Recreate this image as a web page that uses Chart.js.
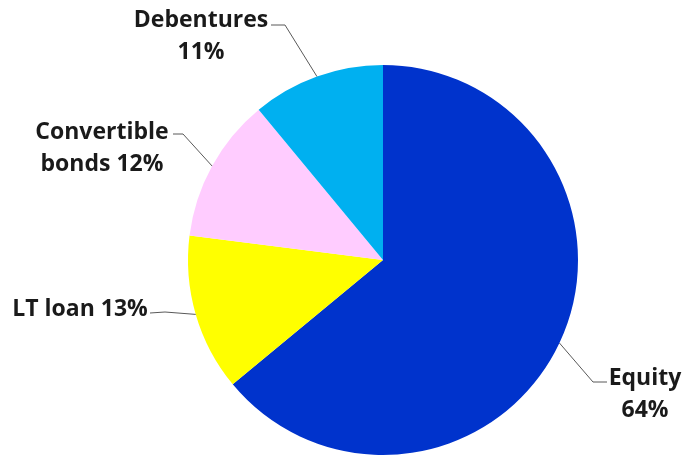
<!DOCTYPE html>
<html>
<head>
<meta charset="utf-8">
<script src="https://cdn.jsdelivr.net/npm/chart.js@4"></script>
<style>
  html, body { margin: 0; padding: 0; background: #fff; overflow: hidden; }
  #wrap { width: 682px; height: 460px; }
</style>
</head>
<body>
<div id="wrap"><canvas id="myChart"></canvas></div>
<script>
const labels = ["Equity", "LT loan", "Convertible bonds", "Debentures"];
const shares = [64, 13, 12, 11];
const colors = ["#0033CC", "#FFFF00", "#FFCCFF", "#00B0F0"];

// label text lines (per slice) and where the text / elbow sit
const labelLines = [["Equity", "64%"], ["LT loan 13%"], ["Convertible", "bonds 12%"], ["Debentures", "11%"]];
const labelPlace = [
  { x: 645, y: 378, elbow: [593, 382], end: [607, 382] },
  { x: 80, y: 309, elbow: [165, 312], end: [150, 313] },
  { x: 102, y: 132, elbow: [183, 134], end: [173, 134] },
  { x: 201, y: 20, elbow: [285, 25], end: [271, 25] },
];

const leaderLabels = {
  id: "leaderLabels",
  afterDraw(chart) {
    const ctx = chart.ctx;
    const meta = chart.getDatasetMeta(0);
    ctx.save();
    meta.data.forEach((arc, i) => {
      const p = labelPlace[i];
      const mid = (arc.startAngle + arc.endAngle) / 2;
      const ax = arc.x + Math.cos(mid) * arc.outerRadius;
      const ay = arc.y + Math.sin(mid) * arc.outerRadius;
      ctx.strokeStyle = "#595959";
      ctx.lineWidth = 1;
      ctx.beginPath();
      ctx.moveTo(ax, ay);
      ctx.lineTo(p.elbow[0], p.elbow[1]);
      ctx.lineTo(p.end[0], p.end[1]);
      ctx.stroke();

      ctx.fillStyle = "#1a1a1a";
      ctx.font = "bold 23px 'Open Sans'";
      ctx.textAlign = "center";
      ctx.textBaseline = "middle";
      labelLines[i].forEach((t, k) => {
        ctx.fillText(t, p.x, p.y + k * 32);
      });
    });
    ctx.restore();
  },
};

const data = {
  labels: labels,
  datasets: [
    {
      data: shares,
      backgroundColor: colors,
      borderWidth: 0,
    },
  ],
};

const config = {
  type: "pie",
  data,
  options: {
    responsive: true,
    maintainAspectRatio: false,
    animation: false,
    layout: { padding: { left: 188, right: 104, top: 65, bottom: 5 } },
    plugins: {
      legend: { display: false },
      tooltip: { enabled: false },
    },
  },
  plugins: [leaderLabels],
};

const myChart = new Chart(document.getElementById("myChart"), config);
</script>
</body>
</html>
